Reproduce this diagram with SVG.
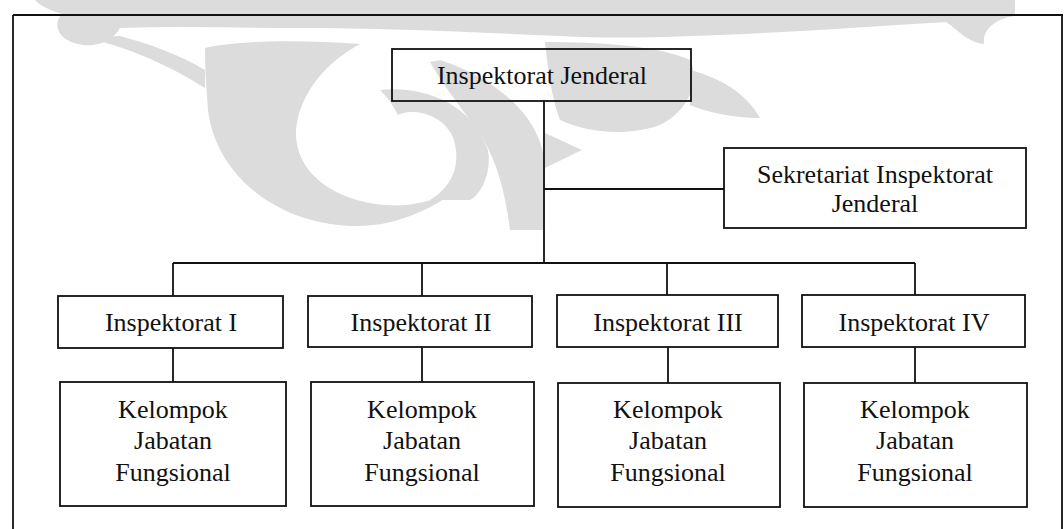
<svg xmlns="http://www.w3.org/2000/svg" width="1064" height="529" viewBox="0 0 1064 529">
<style>
.box{fill:none;stroke:#111;stroke-width:1.8}
.ln{fill:none;stroke:#111;stroke-width:1.8}
.wm{fill:#dcdcdc;stroke:none}
text{font-family:"Liberation Serif","Times New Roman",serif;font-size:26px;fill:#111;text-anchor:middle}
</style>
<rect width="1064" height="529" fill="#ffffff"/>
<g id="watermark">
<path class="wm" d="M35 0 H1015 V16 C998 18 982 28 984 44 C966 42 956 28 946 22 C850 28 760 34 690 36 C640 38 600 38 560 36 C470 32 380 28 300 28 C240 28 180 26 120 28 C112 42 95 48 78 44 C58 40 52 24 62 14 C50 10 40 6 35 0 Z"/>
<path class="wm" d="M85 38 C120 45 160 60 205 88 L205 70 C180 55 150 44 120 36 Z"/>
<path class="wm" d="M205 48 C240 40 300 40 360 44 C330 60 300 90 296 130 C294 170 330 200 385 205 C420 208 450 195 470 180 C440 205 400 228 350 226 C270 222 215 170 208 110 C206 85 205 65 205 48 Z"/>
<path class="wm" d="M380 90 C420 86 470 100 488 150 C492 175 480 195 470 200 L430 200 C455 185 462 160 452 135 C440 112 410 108 398 115 C390 100 385 95 380 90 Z"/>
<path class="wm" d="M440 60 C500 80 545 120 545 170 L545 230 L510 230 C505 190 495 150 470 120 C455 100 440 80 430 62 Z"/>
<path class="wm" d="M545 133 L582 150 L545 168 Z"/>
<path class="wm" d="M545 42 C600 42 660 46 690 60 C700 80 690 110 660 125 C630 136 590 134 560 120 C552 100 548 70 545 42 Z"/>
<path class="wm" d="M690 70 C720 78 745 92 760 118 C735 118 705 112 690 105 Z"/>
</g>
<g id="frame">
<path class="ln" d="M13 15 H1063 M13 15 V529 M1062 15 V529"/>
</g>
<g id="connectors">
<path class="ln" d="M544 101 V263 M544 189 H724 M173 263 H915 M173 263 V296 M422 263 V296 M667 263 V295 M915 263 V295 M173 348 V382 M422 347 V382 M668 347 V383 M915 347 V383"/>
</g>
<g id="node-inspektorat-jenderal">
<rect class="box" x="392" y="49" width="299" height="52"/>
<text x="542" y="84">Inspektorat Jenderal</text>
</g>
<g id="node-sekretariat">
<rect class="box" x="724" y="148" width="302" height="80"/>
<text x="875" y="183">Sekretariat Inspektorat</text>
<text x="875" y="212">Jenderal</text>
</g>
<g id="node-inspektorat-1">
<rect class="box" x="58" y="296" width="225" height="52"/>
<text x="171" y="331">Inspektorat I</text>
</g>
<g id="node-inspektorat-2">
<rect class="box" x="308" y="296" width="224" height="51"/>
<text x="421" y="331">Inspektorat II</text>
</g>
<g id="node-inspektorat-3">
<rect class="box" x="557" y="295" width="221" height="52"/>
<text x="668" y="331">Inspektorat III</text>
</g>
<g id="node-inspektorat-4">
<rect class="box" x="802" y="295" width="223" height="52"/>
<text x="914" y="331">Inspektorat IV</text>
</g>
<g id="node-kelompok-1">
<rect class="box" x="60" y="382" width="226" height="124"/>
<text x="173" y="418">Kelompok</text>
<text x="173" y="449">Jabatan</text>
<text x="173" y="481">Fungsional</text>
</g>
<g id="node-kelompok-2">
<rect class="box" x="311" y="382" width="223" height="124"/>
<text x="422" y="418">Kelompok</text>
<text x="422" y="449">Jabatan</text>
<text x="422" y="481">Fungsional</text>
</g>
<g id="node-kelompok-3">
<rect class="box" x="558" y="383" width="222" height="124"/>
<text x="668" y="418">Kelompok</text>
<text x="668" y="449">Jabatan</text>
<text x="668" y="481">Fungsional</text>
</g>
<g id="node-kelompok-4">
<rect class="box" x="804" y="383" width="223" height="124"/>
<text x="915" y="418">Kelompok</text>
<text x="915" y="449">Jabatan</text>
<text x="915" y="481">Fungsional</text>
</g>
</svg>
